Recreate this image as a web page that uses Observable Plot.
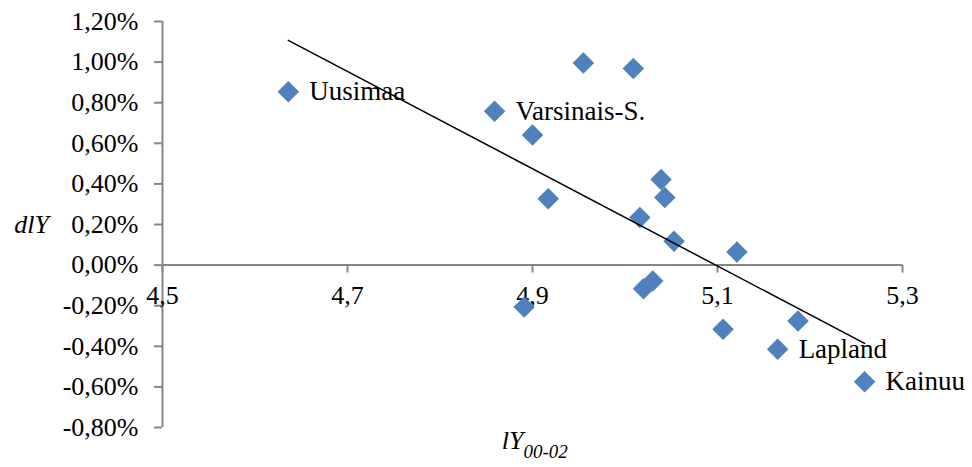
<!DOCTYPE html>
<html>
<head>
<meta charset="utf-8">
<script src="https://cdn.jsdelivr.net/npm/d3@7"></script>
<script src="https://cdn.jsdelivr.net/npm/@observablehq/plot@0.6"></script>
<style>
  html, body { margin: 0; padding: 0; background: #fff; }
  #chart svg { display: block; }
</style>
</head>
<body>
<div id="chart"></div>
<script>
// Regional data: initial log income level (lY 00-02) vs growth (dlY, %)
const lY  = [4.636, 4.859, 4.955, 5.009, 4.900, 5.039, 5.043, 4.917, 5.016,
             5.053, 5.121, 5.030, 5.020, 4.891, 5.106, 5.187, 5.165, 5.259];
const dlY = [0.854, 0.758, 0.996, 0.969, 0.641, 0.422, 0.333, 0.327, 0.235,
             0.117, 0.065, -0.078, -0.117, -0.206, -0.316, -0.275, -0.415, -0.575];
const pointLabels = ["Uusimaa", "Varsinais-S.", "", "", "", "", "", "", "",
                     "", "", "", "", "", "", "", "Lapland", "Kainuu"];

const xTicks = [4.5, 4.7, 4.9, 5.1, 5.3];
const yTicks = [-0.8, -0.6, -0.4, -0.2, 0, 0.2, 0.4, 0.6, 0.8, 1.0, 1.2];
const yTitle = "dlY";
const xTitleMain = "lY";
const xTitleSub = "00-02";

const data = lY.map((x, i) => ({x, y: dlY[i], label: pointLabels[i]}));

const fmtPct = d => d.toFixed(2).replace(".", ",") + "%";
const fmtX = d => d.toFixed(1).replace(".", ",");

const axisGray = "#868686";
const blue = "#4F81BD";
const FS = 26;

const chart = Plot.plot({
  width: 972,
  height: 467,
  marginLeft: 162,
  marginRight: 70,
  marginTop: 21,
  marginBottom: 40,
  style: {fontFamily: "'Liberation Serif', 'Times New Roman', serif", fontSize: FS + "px", background: "#fff", color: "black"},
  x: {domain: [4.5, 5.3], axis: null},
  y: {domain: [-0.8, 1.2], axis: null},
  marks: [
    // y axis
    Plot.ruleX([4.5], {stroke: axisGray, strokeWidth: 2}),
    Plot.axisY({ticks: yTicks, tickSize: 8, tickPadding: 16, tickFormat: fmtPct,
                stroke: axisGray, strokeWidth: 2, color: "black", fontSize: FS, label: null}),
    // x axis at y = 0
    Plot.ruleY([0], {stroke: axisGray, strokeWidth: 2}),
    Plot.ruleX(xTicks, {x: d => d, y1: () => 0, y2: () => 0, insetTop: 0, insetBottom: -8,
                        stroke: axisGray, strokeWidth: 2}),
    Plot.text(xTicks, {x: d => d, y: () => 0, text: fmtX, dy: 31, fontSize: FS, fill: "black"}),
    // axis titles
    Plot.text([yTitle], {text: d => d, frameAnchor: "left", dx: -131, textAnchor: "middle",
                         fontStyle: "italic", fontSize: FS, fill: "black"}),
    Plot.text([xTitleMain], {text: d => d, frameAnchor: "bottom", textAnchor: "end", dx: -9, dy: 21.5,
                             fontStyle: "italic", fontSize: FS, fill: "black"}),
    Plot.text([xTitleSub], {text: d => d, frameAnchor: "bottom", textAnchor: "start", dx: -9, dy: 30,
                            fontStyle: "italic", fontSize: 19, fill: "black"}),
    // points
    Plot.dot(data, {x: "x", y: "y", symbol: "diamond2", r: 9.7, fill: blue, stroke: "none"}),
    // point labels
    Plot.text(data.filter(d => d.label), {x: "x", y: "y", text: "label", textAnchor: "start",
                                          dx: 21, fontSize: 27, fill: "black"}),
    // linear trend line
    Plot.linearRegressionY(data, {x: "x", y: "y", ci: 0, stroke: "black", strokeWidth: 1.5})
  ]
});

document.getElementById("chart").appendChild(chart);
</script>
</body>
</html>
